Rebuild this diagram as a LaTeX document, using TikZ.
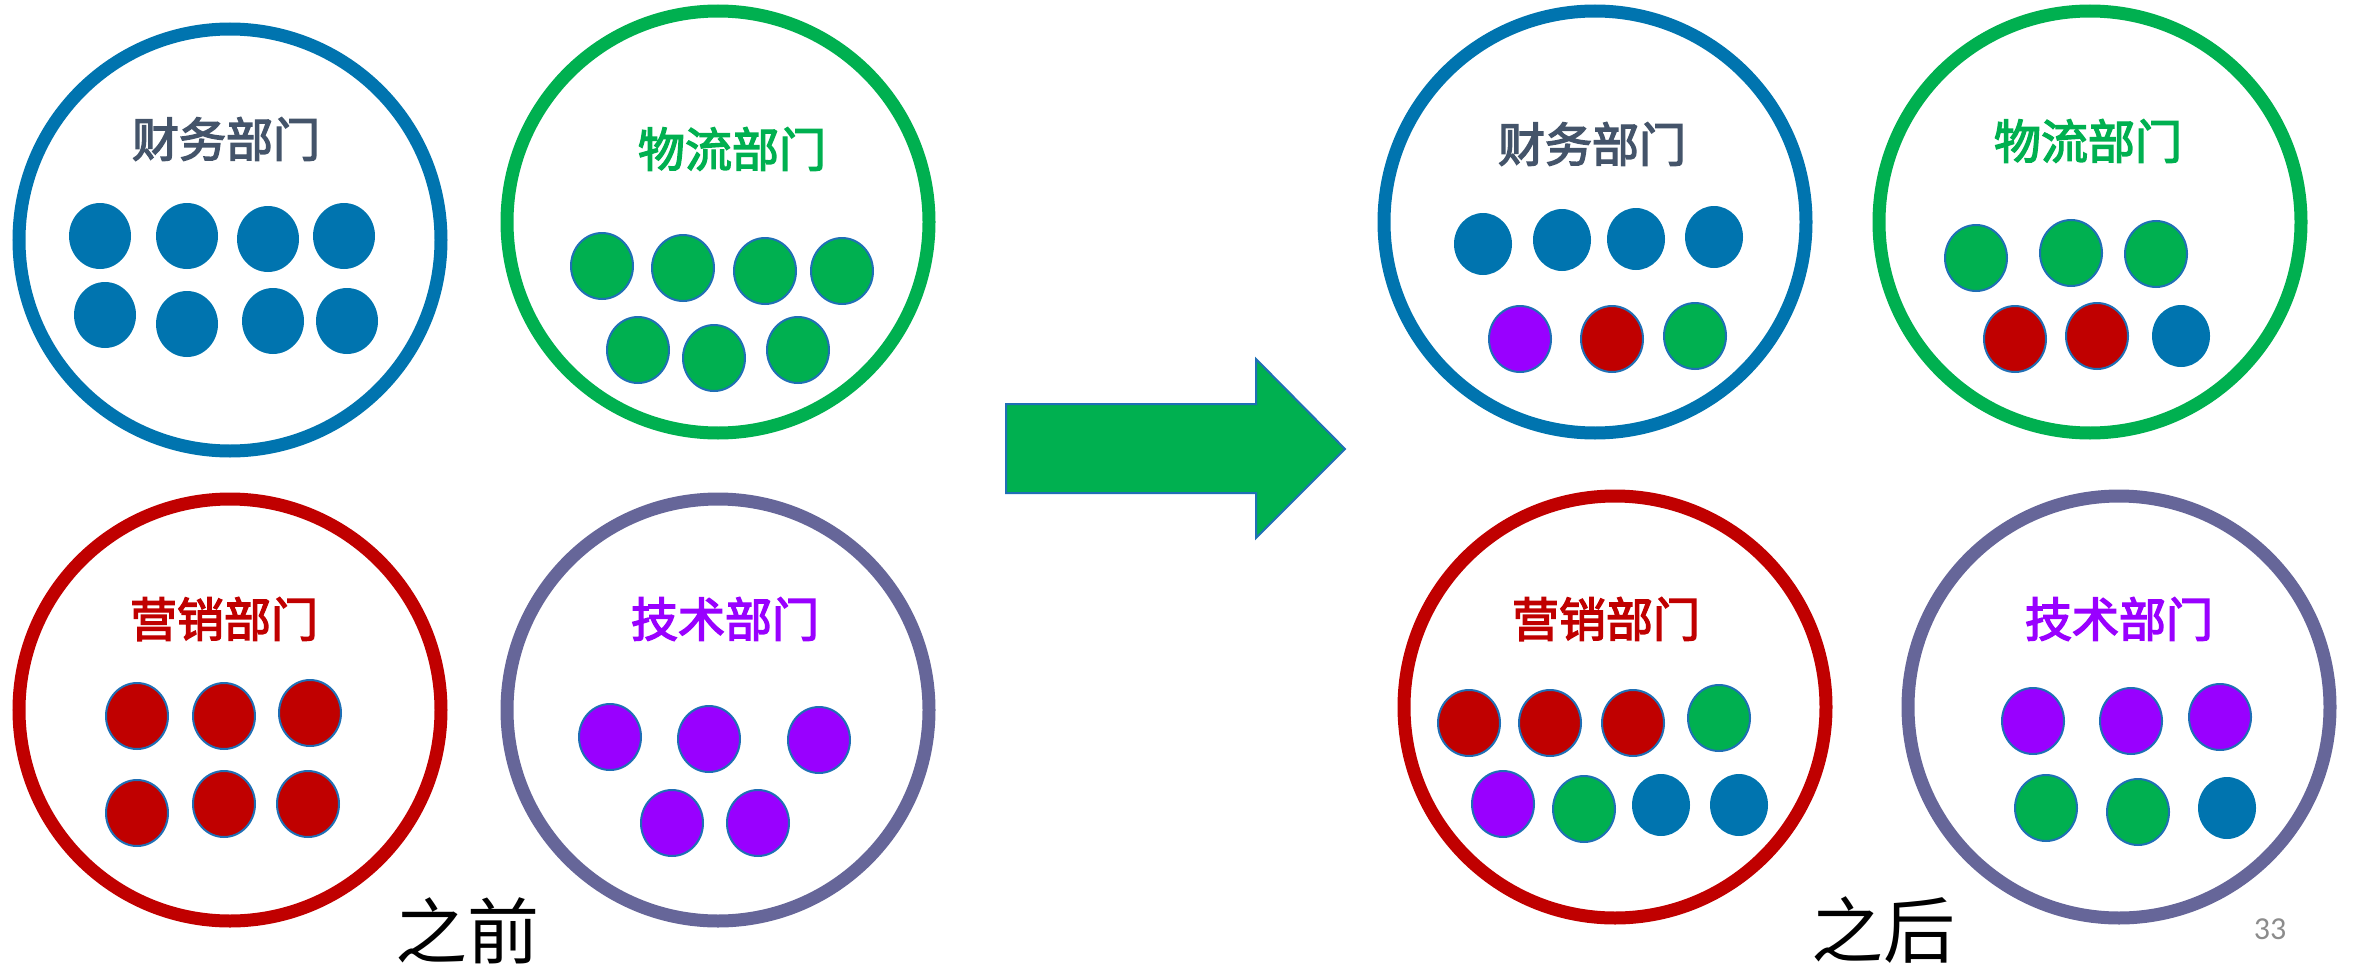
\documentclass[tikz,border=0pt]{standalone}
\usepackage{fontspec}
\newfontfamily\cjk{Noto Sans CJK SC}
\newfontfamily\cjkmid[FakeBold=3]{Noto Sans CJK SC}
\newfontfamily\pagefont{Carlito}
\usetikzlibrary{shapes.geometric}
\definecolor{cblue}{HTML}{0074AF}
\definecolor{cgreen}{HTML}{00B050}
\definecolor{cred}{HTML}{C00000}
\definecolor{cgray}{HTML}{666699}
\definecolor{cpurple}{HTML}{9900FF}
\definecolor{ctext}{HTML}{44546A}
\definecolor{cedge}{HTML}{1F6FB5}
\definecolor{cpage}{HTML}{8C8C8C}
\tikzset{
  dept/.style={circle, line width=13pt, minimum size=422pt, inner sep=0pt},
  lbl/.style={font=\cjkmid\fontsize{47}{50}\selectfont, inner sep=0pt},
  dotb/.style={ellipse, inner sep=0pt, minimum width=62pt, minimum height=66pt},
  bdot/.style={dotb, fill=cblue},
  gdot/.style={dotb, fill=cgreen, draw=cedge, line width=2pt},
  rdot/.style={dotb, fill=cred, draw=cedge, line width=2pt},
  pdot/.style={dotb, fill=cpurple, draw=cedge, line width=2pt},
  caption/.style={font=\cjk\fontsize{72}{76}\selectfont, inner sep=0pt},
}
\begin{document}
\begin{tikzpicture}[x=1pt,y=-1pt]
\useasboundingbox (0,0) rectangle (2354,966);
% ---------- before ----------
\node[dept, draw=cblue] (c1) at (230,240) {};
\node[lbl, text=ctext] (t1) at (226,139) {财务部门};
\node[bdot] (a1) at (100,236) {};
\node[bdot] (a2) at (187,236) {};
\node[bdot] (a3) at (268,239) {};
\node[bdot] (a4) at (344,236) {};
\node[bdot] (a5) at (105,315) {};
\node[bdot] (a6) at (187,324) {};
\node[bdot] (a7) at (273,321) {};
\node[bdot] (a8) at (347,321) {};

\node[dept, draw=cgreen] (c2) at (718,222) {};
\node[lbl, text=cgreen] (t2) at (732,149) {物流部门};
\node[gdot] (b1) at (602,266) {};
\node[gdot] (b2) at (683,268) {};
\node[gdot] (b3) at (765,271) {};
\node[gdot] (b4) at (842,271) {};
\node[gdot] (b5) at (638,350) {};
\node[gdot] (b6) at (714,358) {};
\node[gdot] (b7) at (798,350) {};

\node[dept, draw=cred] (c3) at (230,710) {};
\node[lbl, text=cred] (t3) at (224,619) {营销部门};
\node[rdot] (d1) at (137,716) {};
\node[rdot] (d2) at (224,716) {};
\node[rdot] (d3) at (310,713) {};
\node[rdot] (d4) at (137,813) {};
\node[rdot] (d5) at (224,804) {};
\node[rdot] (d6) at (308,804) {};

\node[dept, draw=cgray] (c4) at (718,710) {};
\node[lbl, text=cpurple] (t4) at (725,619) {技术部门};
\node[pdot] (e1) at (610,737) {};
\node[pdot] (e2) at (709,739) {};
\node[pdot] (e3) at (819,740) {};
\node[pdot] (e4) at (672,823) {};
\node[pdot] (e5) at (758,823) {};

\node[caption] (before) at (467,931) {之前};

% ---------- arrow ----------
\draw[fill=cgreen, draw=cedge, line width=2pt, line join=miter]
  (1006,404) -- (1256,404) -- (1256,359) -- (1345,449) -- (1256,538)
  -- (1256,493) -- (1006,493) -- cycle;

% ---------- after ----------
\node[dept, draw=cblue] (f1) at (1595,222) {};
\node[lbl, text=ctext] (u1) at (1592,144) {财务部门};
\node[bdot, minimum width=58pt, minimum height=62pt] (g1) at (1483,244) {};
\node[bdot, minimum width=58pt, minimum height=62pt] (g2) at (1562,240) {};
\node[bdot, minimum width=58pt, minimum height=62pt] (g3) at (1636,239) {};
\node[bdot, minimum width=58pt, minimum height=62pt] (g4) at (1714,237) {};
\node[pdot] (g5) at (1520,339) {};
\node[rdot] (g6) at (1612,339) {};
\node[gdot] (g7) at (1695,336) {};

\node[dept, draw=cgreen] (f2) at (2090,222) {};
\node[lbl, text=cgreen] (u2) at (2088,141) {物流部门};
\node[gdot] (h1) at (1976,258) {};
\node[gdot] (h2) at (2071,253) {};
\node[gdot] (h3) at (2156,254) {};
\node[rdot] (h4) at (2015,339) {};
\node[rdot] (h5) at (2097,336) {};
\node[bdot, minimum width=58pt, minimum height=62pt] (h6) at (2181,336) {};

\node[dept, draw=cred] (f3) at (1615,707) {};
\node[lbl, text=cred] (u3) at (1606,619) {营销部门};
\node[rdot] (k1) at (1469,723) {};
\node[rdot] (k2) at (1550,723) {};
\node[rdot] (k3) at (1633,723) {};
\node[gdot] (k4) at (1719,718) {};
\node[pdot] (k5) at (1503,804) {};
\node[gdot] (k6) at (1584,809) {};
\node[bdot, minimum width=58pt, minimum height=62pt] (k7) at (1661,805) {};
\node[bdot, minimum width=58pt, minimum height=62pt] (k8) at (1739,805) {};

\node[dept, draw=cgray] (f4) at (2119,707) {};
\node[lbl, text=cpurple] (u4) at (2119,619) {技术部门};
\node[pdot] (m1) at (2033,721) {};
\node[pdot] (m2) at (2131,721) {};
\node[pdot] (m3) at (2220,717) {};
\node[gdot] (m4) at (2046,808) {};
\node[gdot] (m5) at (2138,812) {};
\node[bdot, minimum width=58pt, minimum height=62pt] (m6) at (2227,808) {};

\node[caption] (after) at (1883,930) {之后};
\node[font=\pagefont\fontsize{32}{34}\selectfont, text=cpage, inner sep=0pt] (pg) at (2270,929) {33};
\end{tikzpicture}
\end{document}
